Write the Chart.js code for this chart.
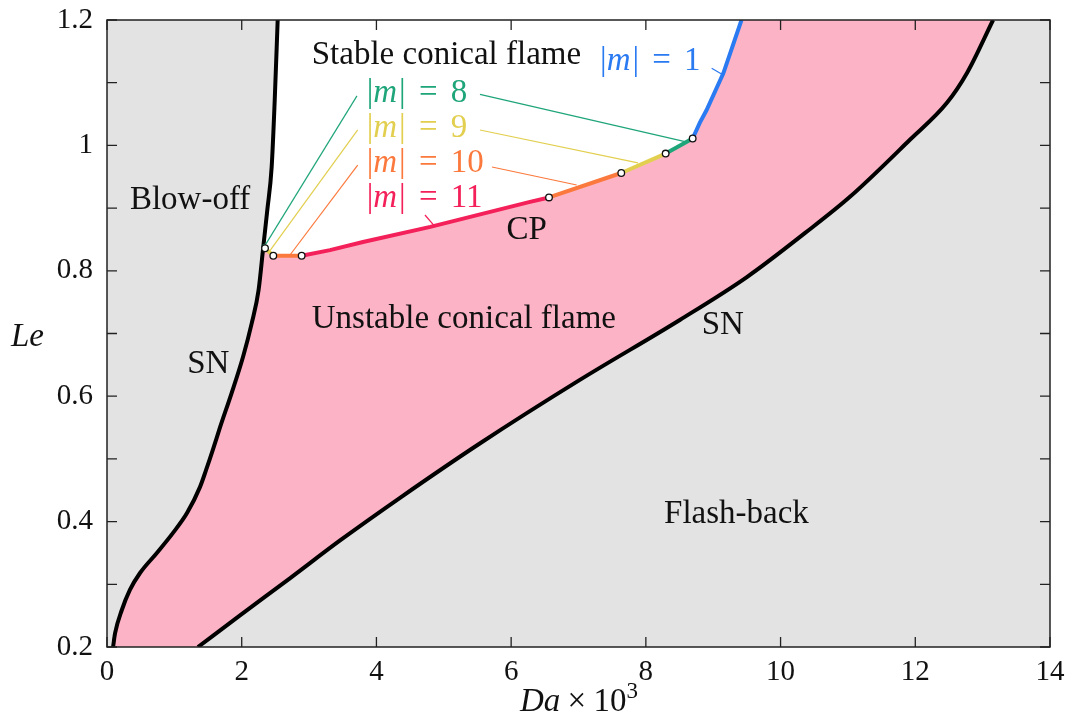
<!DOCTYPE html>
<html>
<head>
<meta charset="utf-8">
<script src="https://cdn.jsdelivr.net/npm/chart.js@4.4.1/dist/chart.umd.min.js"></script>
<style>
  body { margin: 0; background: #fff; }
  #wrap { width: 1068px; height: 715px; }
</style>
</head>
<body>
<div id="wrap"><canvas id="stabChart" width="1068" height="715"></canvas></div>
<script>
// DATA (Da x 10^3 , Le)
// left saddle-node branch (blow-off limit)
var snLeftDa = [0.09, 0.12, 0.22, 0.34, 0.49, 0.74, 0.98, 1.19, 1.38, 1.47, 1.57, 1.68, 1.85, 2.02, 2.15, 2.25, 2.32, 2.38, 2.445, 2.49, 2.534];
var snLeftLe = [0.2, 0.222, 0.259, 0.291, 0.318, 0.35, 0.382, 0.414, 0.455, 0.482, 0.514, 0.551, 0.605, 0.663, 0.717, 0.769, 0.838, 0.897, 0.966, 1.072, 1.2];
// right saddle-node branch (flash-back limit)
var snRightDa = [1.35, 1.97, 2.72, 3.46, 4.35, 5.54, 7.02, 8.51, 9.5, 10.36, 11.03, 11.92, 12.47, 12.77, 13.155];
var snRightLe = [0.2, 0.25, 0.31, 0.37, 0.438, 0.525, 0.626, 0.722, 0.79, 0.86, 0.918, 1.009, 1.068, 1.116, 1.2];
// neutral curve, from the left SN branch up to the top of the plot
var neutralDa = [2.32, 2.346, 2.469, 2.89, 3.31, 3.8, 4.8, 6.28, 6.562, 7.635, 8.294, 8.695, 8.8, 8.9, 9.15, 9.42];
var neutralLe = [0.842, 0.836, 0.824, 0.824, 0.833, 0.846, 0.87, 0.91, 0.917, 0.956, 0.987, 1.011, 1.036, 1.056, 1.115, 1.2];
// |m| of the mode that goes unstable on each piece of the neutral curve
var neutralMode = [8, 9, 10, 11, 11, 11, 11, 11, 10, 9, 8, 1, 1, 1, 1];

var xTickLabels = ['0', '2', '4', '6', '8', '10', '12', '14'];
var yTickLabels = ['0.2', '0.4', '0.6', '0.8', '1', '1.2'];

// labels and leader lines (placed in data units)
var regionLabels = [
    { text: 'Stable conical flame', da: 3.04, le: 1.130 },
    { text: 'Unstable conical flame', da: 3.04, le: 0.708 },
    { text: 'Blow-off', da: 0.34, le: 0.898 },
    { text: 'CP', da: 5.93, le: 0.851 },
    { text: 'SN', da: 1.19, le: 0.637 },
    { text: 'SN', da: 8.83, le: 0.700 },
    { text: 'Flash-back', da: 8.27, le: 0.398 }
];
var modeLabels = [
    { m: 1, da: 7.32, le: 1.120 },
    { m: 8, da: 3.855, le: 1.070 },
    { m: 9, da: 3.855, le: 1.013 },
    { m: 10, da: 3.855, le: 0.957 },
    { m: 11, da: 3.855, le: 0.901 }
];
var leaders = [
    { m: 8, a: [3.711, 1.079], b: [2.36, 0.843] },
    { m: 8, a: [5.537, 1.0815], b: [8.581, 1.006] },
    { m: 9, a: [3.722, 1.0246], b: [2.409, 0.8305] },
    { m: 9, a: [5.537, 1.0246], b: [7.883, 0.972] },
    { m: 10, a: [3.722, 0.9687], b: [2.717, 0.8252] },
    { m: 10, a: [5.716, 0.9656], b: [6.973, 0.9368] },
    { m: 11, a: [4.721, 0.889], b: [4.869, 0.8703] },
    { m: 1, a: [8.977, 1.123], b: [9.149, 1.1123] }
];

var modeColor = { 1: '#2a7af2', 8: '#1fa57a', 9: '#e2cf4f', 10: '#fb793c', 11: '#f42059' };
var FONT = '"Liberation Serif", "DejaVu Serif", serif';

function zip(xs, ys) {
    return xs.map(function (x, i) { return { x: x, y: ys[i] }; });
}

var leftPts = zip(snLeftDa, snLeftLe);
var rightPts = zip(snRightDa, snRightLe);
var neutralPts = zip(neutralDa, neutralLe);

// unstable band: left branch up, right branch down
var pinkPts = leftPts.concat(rightPts.slice().reverse());
// stable pocket: left branch above the neutral curve, then the neutral curve back
var whitePts = leftPts.filter(function (p) { return p.y >= neutralLe[0] - 0.005; })
    .concat(neutralPts.slice().reverse());
// markers where the mode changes
var markerPts = neutralPts.filter(function (p, i) {
    return i > 0 && i < neutralMode.length && neutralMode[i] !== neutralMode[i - 1];
});

function richText(ctx, parts, x, y, size, color) {
    ctx.fillStyle = color;
    ctx.textBaseline = 'alphabetic';
    ctx.textAlign = 'left';
    parts.forEach(function (p) {
        var s = p.size || size;
        ctx.font = (p.it ? 'italic ' : '') + s + 'px ' + FONT;
        ctx.fillText(p.t, x, y + (p.dy || 0));
        x += ctx.measureText(p.t).width + (p.gap || 0) * size;
    });
}

// keep the plot box fixed: no extra room for overhanging tick labels
function noOverhang(s) {
    s.paddingTop = 0; s.paddingBottom = 0;
    s.paddingLeft = 0; s.paddingRight = 0;
}

var panelPlugin = {
    id: 'panel',
    beforeDatasetsDraw: function (chart) {
        var a = chart.chartArea, ctx = chart.ctx;
        ctx.save();
        ctx.fillStyle = '#e3e3e3';
        ctx.fillRect(a.left, a.top, a.right - a.left, a.bottom - a.top);
        ctx.restore();
    },
    afterDatasetsDraw: function (chart) {
        var a = chart.chartArea, ctx = chart.ctx;
        var xs = chart.scales.x, ys = chart.scales.y;
        ctx.save();

        // leader lines
        ctx.lineWidth = 1.2;
        leaders.forEach(function (l) {
            ctx.strokeStyle = modeColor[l.m];
            ctx.beginPath();
            ctx.moveTo(xs.getPixelForValue(l.a[0]), ys.getPixelForValue(l.a[1]));
            ctx.lineTo(xs.getPixelForValue(l.b[0]), ys.getPixelForValue(l.b[1]));
            ctx.stroke();
        });

        // region labels
        ctx.font = '33px ' + FONT;
        ctx.fillStyle = '#111';
        ctx.textAlign = 'left';
        ctx.textBaseline = 'alphabetic';
        regionLabels.forEach(function (r) {
            ctx.fillText(r.text, xs.getPixelForValue(r.da), ys.getPixelForValue(r.le));
        });

        // |m| = k labels
        modeLabels.forEach(function (r) {
            richText(ctx, [
                { t: '|' }, { t: 'm', it: true, gap: 0.06 }, { t: '|', gap: 0.4 },
                { t: '=', gap: 0.4 }, { t: String(r.m) }
            ], xs.getPixelForValue(r.da), ys.getPixelForValue(r.le), 33, modeColor[r.m]);
        });

        // inward ticks on all four sides
        ctx.strokeStyle = '#222';
        ctx.lineWidth = 1.3;
        ctx.beginPath();
        xs.ticks.forEach(function (t) {
            var px = xs.getPixelForValue(t.value);
            ctx.moveTo(px, a.bottom); ctx.lineTo(px, a.bottom - 10);
            ctx.moveTo(px, a.top); ctx.lineTo(px, a.top + 10);
        });
        ys.ticks.forEach(function (t) {
            var py = ys.getPixelForValue(t.value);
            ctx.moveTo(a.left, py); ctx.lineTo(a.left + 10, py);
            ctx.moveTo(a.right, py); ctx.lineTo(a.right - 10, py);
        });
        ctx.stroke();

        // frame
        ctx.lineWidth = 1.5;
        ctx.strokeRect(a.left, a.top, a.right - a.left, a.bottom - a.top);
        ctx.restore();
    },
    afterDraw: function (chart) {
        var ctx = chart.ctx;
        ctx.save();
        // y title, not rotated
        richText(ctx, [{ t: 'Le', it: true }], 11, 346, 33, '#111');
        // x title, centred under the axis
        var parts = [
            { t: 'Da', it: true, gap: 0.22 }, { t: '\u00d7', gap: 0.22 },
            { t: '10' }, { t: '3', size: 23, dy: -13 }
        ];
        var w = 0;
        parts.forEach(function (p) {
            ctx.font = (p.it ? 'italic ' : '') + (p.size || 33) + 'px ' + FONT;
            w += ctx.measureText(p.t).width + (p.gap || 0) * 33;
        });
        richText(ctx, parts, 579 - w / 2, 711, 33, '#111');
        ctx.restore();
    }
};

var ctx = document.getElementById('stabChart');
var stabChart = new Chart(ctx, {
    type: 'line',
    data: {
        datasets: [{
            label: 'markers',
            data: markerPts,
            showLine: false,
            pointRadius: 3.3,
            pointBorderWidth: 1.3,
            pointBackgroundColor: '#fff',
            pointBorderColor: '#111',
            order: 1
        }, {
            label: 'neutral',
            data: neutralPts,
            borderWidth: 4,
            pointRadius: 0,
            tension: 0,
            borderColor: modeColor[11],
            segment: {
                borderColor: function (c) { return modeColor[neutralMode[c.p0DataIndex]]; }
            },
            fill: false,
            order: 2
        }, {
            label: 'SN left',
            data: leftPts,
            borderWidth: 4,
            borderColor: '#000',
            pointRadius: 0,
            cubicInterpolationMode: 'monotone',
            fill: false,
            order: 3
        }, {
            label: 'SN right',
            data: rightPts,
            borderWidth: 4,
            borderColor: '#000',
            pointRadius: 0,
            cubicInterpolationMode: 'monotone',
            fill: false,
            order: 3
        }, {
            label: 'stable',
            data: whitePts,
            borderWidth: 0,
            borderColor: 'rgba(0,0,0,0)',
            backgroundColor: '#ffffff',
            pointRadius: 0,
            tension: 0,
            fill: 'shape',
            order: 8
        }, {
            label: 'unstable',
            data: pinkPts,
            borderWidth: 0,
            borderColor: 'rgba(0,0,0,0)',
            backgroundColor: '#fdb3c6',
            pointRadius: 0,
            tension: 0,
            fill: 'shape',
            order: 9
        }]
    },
    options: {
        responsive: false,
        animation: false,
        events: [],
        layout: { padding: { top: 20, right: 18, left: 0, bottom: 0 } },
        plugins: {
            legend: { display: false },
            tooltip: { enabled: false }
        },
        scales: {
            x: {
                type: 'linear',
                min: 0,
                max: 14,
                grid: { display: false, drawTicks: false },
                border: { display: false },
                ticks: {
                    stepSize: 2,
                    padding: 8,
                    color: '#111',
                    font: { family: FONT, size: 29 },
                    maxRotation: 0,
                    callback: function (v) {
                        var s = String(Math.round(v * 10) / 10);
                        return xTickLabels.indexOf(s) >= 0 ? s : '';
                    }
                },
                afterFit: function (s) { s.height = 68; noOverhang(s); }
            },
            y: {
                type: 'linear',
                min: 0.2,
                max: 1.2,
                grid: { display: false, drawTicks: false },
                border: { display: false },
                ticks: {
                    stepSize: 0.1,
                    padding: 14,
                    color: '#111',
                    font: { family: FONT, size: 29 },
                    autoSkip: false,
                    callback: function (v) {
                        var s = String(Math.round(v * 10) / 10);
                        return yTickLabels.indexOf(s) >= 0 ? s : '';
                    }
                },
                afterFit: function (s) { s.width = 107; noOverhang(s); }
            }
        }
    },
    plugins: [panelPlugin]
});
</script>
</body>
</html>
